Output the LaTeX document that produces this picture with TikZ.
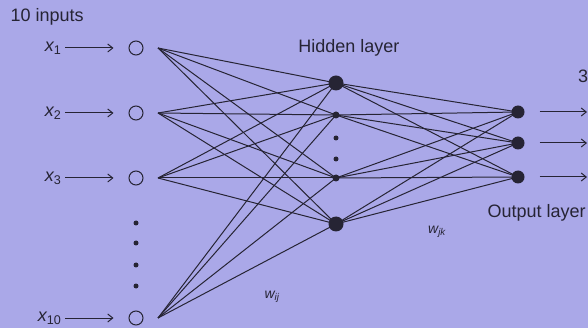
\documentclass[tikz,border=0pt]{standalone}
\usepackage{fontspec}
\setmainfont{Liberation Sans}
\usetikzlibrary{arrows.meta, positioning}
\definecolor{paper}{RGB}{170,168,232}
\definecolor{ink}{RGB}{38,36,52}

\begin{document}
\begin{tikzpicture}[x=1pt, y=-1pt,
  font=\fontsize{18}{21}\selectfont,
  every node/.style={text=ink},
  inp/.style={circle, draw=ink, line width=1pt, minimum size=14pt, inner sep=0pt},
  neuron/.style={circle, fill=ink, inner sep=0pt, minimum size=#1},
  vdot/.style={circle, fill=ink, inner sep=0pt, minimum size=5pt},
  wire/.style={draw=ink, line width=1pt},
  arr/.style={-{Straight Barb[length=5pt,width=8pt]}, draw=ink, line width=1pt},
  wlabel/.style={font=\fontsize{14}{16}\selectfont\itshape}
]
  \fill[paper] (0,0) rectangle (588,328);
  \useasboundingbox (0,0) rectangle (588,328);

  \node[anchor=west] (title) at (7,17) {10 inputs};

  \foreach \n/\y/\s in {1/48/1, 2/113/2, 3/178/3, 4/318/10} {
    \node[inp] (in\n) at (136,\y) {};
    \node[anchor=east] (lx\n) at (65,\y) {{\itshape x}\textsubscript{\s}};
    \coordinate (f\n) at (158,\y);
    \draw[arr, shorten >=15pt] (lx\n) -- (in\n);
  }
  \foreach \d/\y in {1/223, 2/243, 3/265, 4/286}
    \node[vdot] (id\d) at (136,\y) {};

  \node[neuron=15pt] (h1) at (336,83) {};
  \node[neuron=7pt]  (h2) at (336,115) {};
  \node[neuron=7pt]  (h3) at (336,178) {};
  \node[neuron=15pt] (h4) at (336,224) {};
  \node[vdot] (hd1) at (336,138) {};
  \node[vdot] (hd2) at (336,159) {};

  \foreach \k/\y in {1/112, 2/143, 3/177} {
    \node[neuron=13pt] (o\k) at (518,\y) {};
    \coordinate (t\k) at (587,\y);
    \draw[arr, shorten <=15pt] (o\k) -- (t\k);
  }

  \foreach \i in {1,...,4}
    \foreach \j in {1,...,4}
      \draw[wire] (f\i) -- (h\j.center);
  \foreach \j in {1,...,4}
    \foreach \k in {1,2,3}
      \draw[wire] (h\j.center) -- (o\k.center);

  \node[above=16pt of h1, xshift=13pt] (hlab) {Hidden layer};
  \node[anchor=west] (olab) at (484,213) {Output layer};
  \node[anchor=west, inner sep=0pt] (nout) at (578,76) {3};
  \node[wlabel] (wij) at (272,297) {w\textsubscript{ij}};
  \node[wlabel] (wjk) at (437,232) {w\textsubscript{jk}};
\end{tikzpicture}
\end{document}
